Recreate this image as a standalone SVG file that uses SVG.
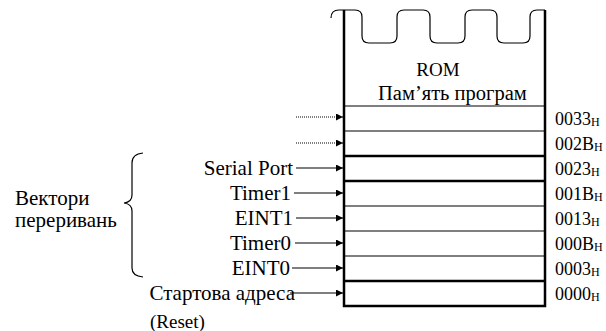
<svg xmlns="http://www.w3.org/2000/svg" width="606" height="331" viewBox="0 0 606 331">
<defs>
<marker id="ah" viewBox="0 0 10 10" refX="10" refY="5" markerWidth="7" markerHeight="7" markerUnits="userSpaceOnUse" orient="auto"><path d="M0,0 L10,5 L0,10 z" fill="#000"/></marker>
<style>
text{font-family:"Liberation Serif","Times New Roman",serif;font-size:21px;fill:#000}
.r{text-anchor:end}
.m{text-anchor:middle}
.hex{font-size:18px}
.sub{font-size:12px}
.thin{stroke:#000;stroke-width:1.2;fill:none}
.thick{stroke:#000;stroke-width:2.5;fill:none}
.arr{stroke:#000;stroke-width:1.2;fill:none;marker-end:url(#ah)}
.dot{stroke:#000;stroke-width:1;stroke-dasharray:1,1;fill:none;marker-end:url(#ah)}
</style>
</defs>
<rect width="606" height="331" fill="#fff"/>
<g id="rom">
<path class="thin" stroke-width="1.5" d="M331,18 Q331,10 339,10 H355 Q362,10 362,17 V36 Q362,43 369,43 H390 Q397,43 397,36 V17 Q397,10 404,10 H423 Q430,10 430,17 V36 Q430,43 437,43 H458 Q465,43 465,36 V17 Q465,10 472,10 H490 Q497,10 497,17 V36 Q497,43 504,43 H523 Q530,43 530,36 V17 Q530,10 537,10 H545"/>
<path class="thick" d="M344,10 V306 H545 V10"/>
<text class="m" x="438" y="76" style="font-size:19px">ROM</text>
<text x="378" y="100" style="font-size:20.5px">Пам’ять програм</text>
<line class="thin" x1="344" y1="106" x2="545" y2="106"/>
<line class="thin" x1="344" y1="131" x2="545" y2="131"/>
<line class="thick" x1="344" y1="156" x2="545" y2="156"/>
<line class="thick" x1="344" y1="181" x2="545" y2="181"/>
<line class="thin" x1="344" y1="206" x2="545" y2="206"/>
<line class="thin" x1="344" y1="231" x2="545" y2="231"/>
<line class="thin" x1="344" y1="256" x2="545" y2="256"/>
<line class="thick" x1="344" y1="281" x2="545" y2="281"/>
</g>
<g id="addresses" class="hex">
<text class="hex" x="555" y="125">0033<tspan class="sub" dy="1">H</tspan></text>
<text class="hex" x="555" y="150">002B<tspan class="sub" dy="1">H</tspan></text>
<text class="hex" x="555" y="175">0023<tspan class="sub" dy="1">H</tspan></text>
<text class="hex" x="555" y="200">001B<tspan class="sub" dy="1">H</tspan></text>
<text class="hex" x="555" y="225">0013<tspan class="sub" dy="1">H</tspan></text>
<text class="hex" x="555" y="250">000B<tspan class="sub" dy="1">H</tspan></text>
<text class="hex" x="555" y="275">0003<tspan class="sub" dy="1">H</tspan></text>
<text class="hex" x="555" y="300">0000<tspan class="sub" dy="1">H</tspan></text>
</g>
<g id="labels">
<text class="r" x="293" y="175">Serial Port</text>
<text class="r" x="291" y="200">Timer1</text>
<text class="r" x="293" y="225">EINT1</text>
<text class="r" x="291" y="250">Timer0</text>
<text class="r" x="290" y="275">EINT0</text>
<text class="r" x="295" y="300">Стартова адреса</text>
<text x="150" y="328" style="font-size:19px">(Reset)</text>
<text x="15" y="205">Вектори</text>
<text x="15" y="227">переривань</text>
</g>
<g id="brace">
<path class="thin" d="M143,153 Q132,154 132,163 V195 Q132,202 124,203 Q132,204 132,211 V268 Q132,276 143,277"/>
</g>
<g id="connectors">
<line class="dot" x1="296" y1="117" x2="343" y2="117"/>
<line class="dot" x1="296" y1="143" x2="343" y2="143"/>
<line class="arr" x1="296" y1="168" x2="343" y2="168"/>
<line class="arr" x1="294" y1="193" x2="343" y2="193"/>
<line class="arr" x1="296" y1="218" x2="343" y2="218"/>
<line class="arr" x1="295" y1="243" x2="343" y2="243"/>
<line class="arr" x1="292" y1="268" x2="343" y2="268"/>
<line class="arr" x1="290" y1="293" x2="343" y2="293"/>
</g>
</svg>
